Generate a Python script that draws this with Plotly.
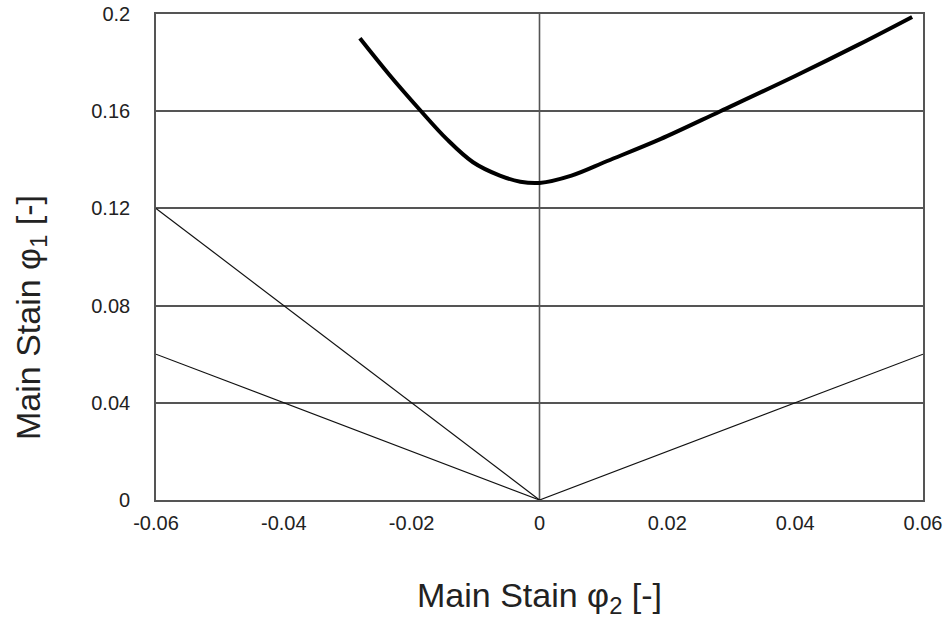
import plotly.graph_objects as go

# Forming limit curve (thick)
flc_x = [-0.0281, -0.0235, -0.0187, -0.0145, -0.0104, -0.0062, -0.003, 0.0, 0.005, 0.0106, 0.0189, 0.0283, 0.04, 0.05, 0.0583]
flc_y = [0.190, 0.175, 0.1605, 0.1485, 0.139, 0.1335, 0.131, 0.1305, 0.1335, 0.1395, 0.1485, 0.160, 0.1745, 0.1875, 0.1988]

# Reference strain paths (thin)
path1_x = [-0.06, 0.0]
path1_y = [0.12, 0.0]
path2_x = [-0.06, 0.0]
path2_y = [0.06, 0.0]
path3_x = [0.0, 0.06]
path3_y = [0.0, 0.06]

x_ticks = [-0.06, -0.04, -0.02, 0, 0.02, 0.04, 0.06]
x_labels = ["-0.06", "-0.04", "-0.02", "0", "0.02", "0.04", "0.06"]
y_ticks = [0, 0.04, 0.08, 0.12, 0.16, 0.2]
y_labels = ["0", "0.04", "0.08", "0.12", "0.16", "0.2"]

x_title = "Main Stain φ<sub>2</sub> [-]"
y_title = "Main Stain φ<sub>1</sub> [-]"

W, H = 948, 620
L, R, T, B = 156, 25, 14, 120
pw, ph = W - L - R, H - T - B


def px_x(page_x):
    return (page_x - L) / pw


def px_y(page_y):
    return (H - B - page_y) / ph


fig = go.Figure()
for px, py in [(path1_x, path1_y), (path2_x, path2_y), (path3_x, path3_y)]:
    fig.add_trace(go.Scatter(x=px, y=py, mode="lines",
                             line=dict(color="#111111", width=1.2),
                             showlegend=False, hoverinfo="skip"))
fig.add_trace(go.Scatter(x=flc_x, y=flc_y, mode="lines",
                         line=dict(color="#000000", width=4, shape="spline", smoothing=1.0),
                         showlegend=False))

# vertical zero line
fig.add_shape(type="line", x0=0, x1=0, y0=0, y1=0.2, xref="x", yref="y",
              line=dict(color="#555555", width=1.6), layer="below")

font = "Liberation Sans, Arial, sans-serif"
fig.add_annotation(text=x_title, xref="paper", yref="paper",
                   x=px_x(539), y=px_y(597), showarrow=False,
                   xanchor="center", yanchor="middle",
                   font=dict(size=34, family=font, color="#222222"))
fig.add_annotation(text=y_title, xref="paper", yref="paper",
                   x=px_x(30), y=px_y(318), showarrow=False,
                   textangle=-90, xanchor="center", yanchor="middle",
                   font=dict(size=34, family=font, color="#222222"))

fig.update_layout(
    width=W, height=H,
    margin=dict(l=L, r=R, t=T, b=B),
    paper_bgcolor="white", plot_bgcolor="white",
    font=dict(family=font, color="#222222", size=20),
    xaxis=dict(range=[-0.06, 0.06], tickvals=x_ticks, ticktext=x_labels,
               showgrid=False, zeroline=False, showline=True, mirror=True,
               linecolor="#555555", linewidth=1.6, ticks="outside", ticklen=4,
               tickcolor="rgba(0,0,0,0)", automargin=False, ticklabeloverflow="allow",
               tickfont=dict(size=20, family=font, color="#222222")),
    yaxis=dict(range=[0, 0.2], tickvals=y_ticks, ticktext=y_labels,
               showgrid=True, gridcolor="#555555", gridwidth=1.6, zeroline=False,
               showline=True, mirror=True, linecolor="#555555", linewidth=1.6,
               ticks="outside", ticklen=20, tickcolor="rgba(0,0,0,0)", automargin=False,
               ticklabeloverflow="allow",
               tickfont=dict(size=20, family=font, color="#222222")),
)
fig.write_html("out.html", config={"displayModeBar": False},
               post_script="document.body.style.margin='0';")
